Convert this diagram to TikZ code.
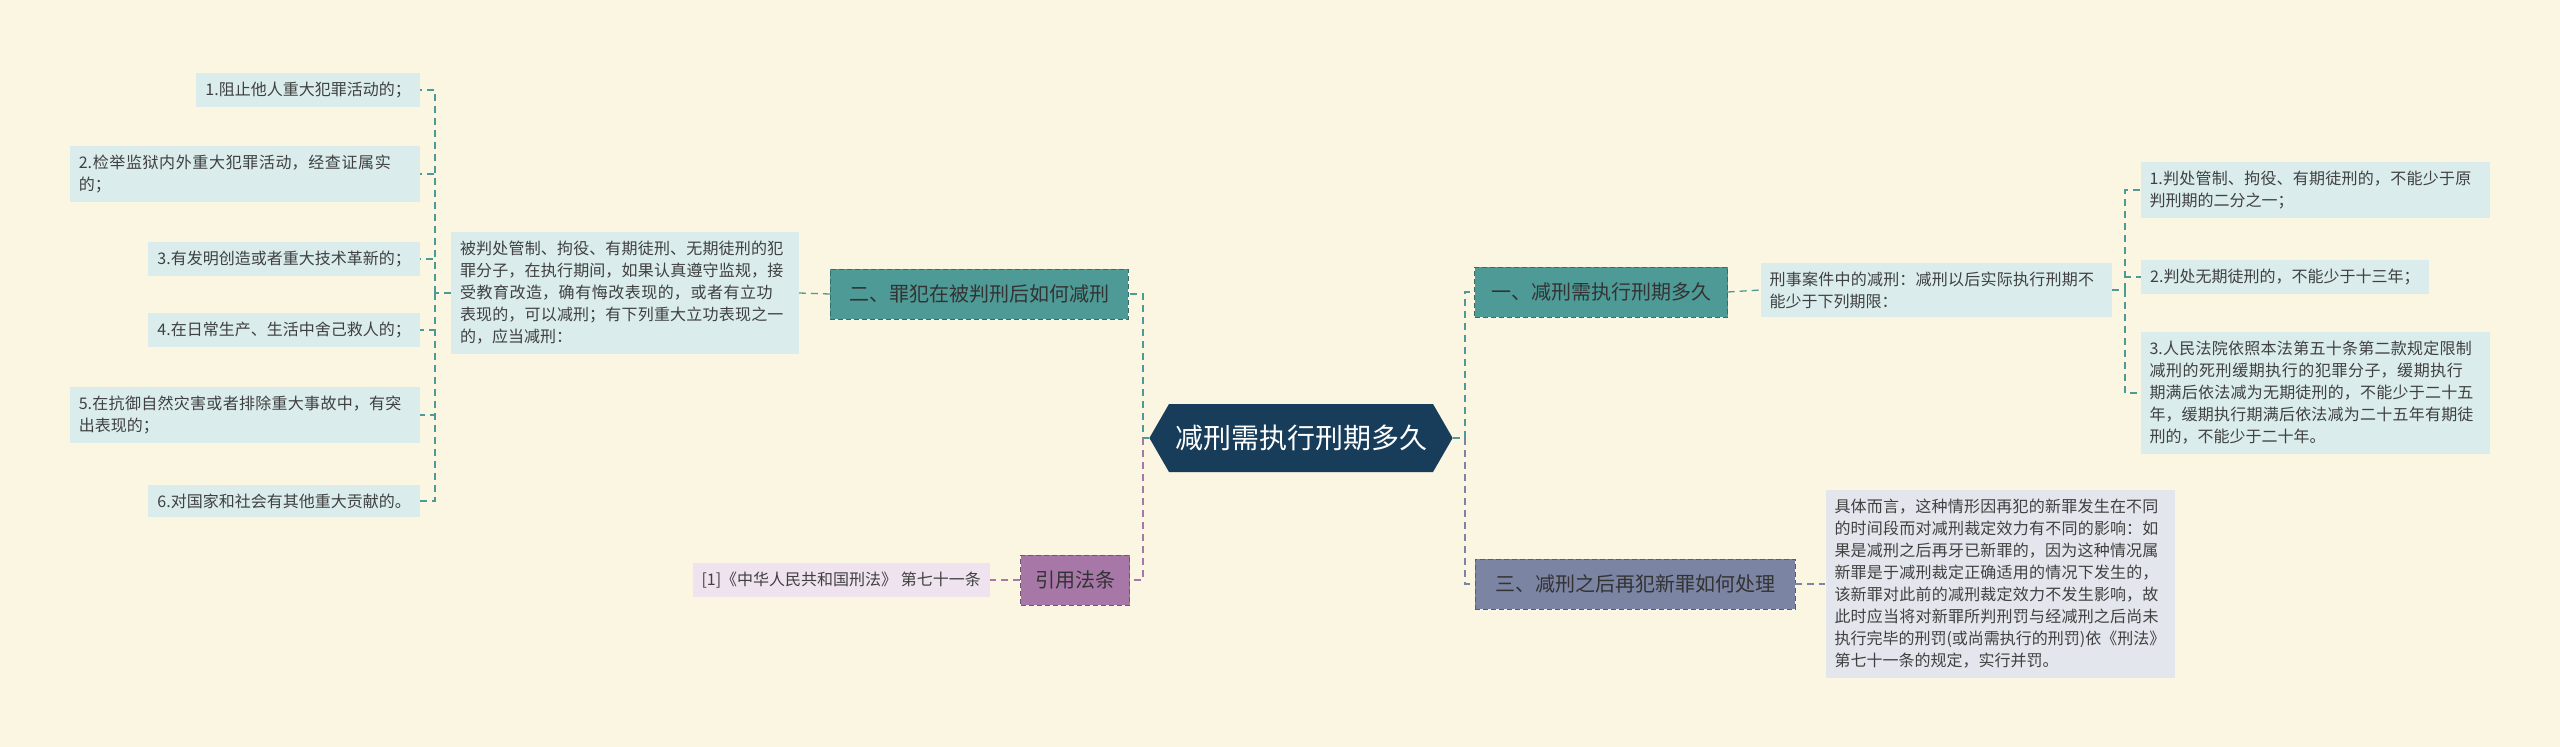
\documentclass[tikz,border=0pt]{standalone}
\usepackage{fontspec}
\setmainfont{Noto Sans CJK SC}
\XeTeXlinebreaklocale "zh"
\XeTeXlinebreakskip=0pt plus 1pt
\usetikzlibrary{shapes.symbols}
\definecolor{bgcream}{HTML}{FBF6E1}
\definecolor{rootblue}{HTML}{173D5A}
\definecolor{teal}{HTML}{4E9A96}
\definecolor{slate}{HTML}{7B84A3}
\definecolor{plum}{HTML}{A777A8}
\definecolor{leafblue}{HTML}{DAECEC}
\definecolor{leafgray}{HTML}{E3E6EC}
\definecolor{leafplum}{HTML}{EFE3EF}
\tikzset{
  x=1pt,y=1pt,
  branch/.style={draw=#1!70!black,dash pattern=on 5pt off 3pt,fill=#1,text=black!80,inner sep=8pt,
    font=\fontsize{20}{24}\selectfont,minimum height=50pt},
  leaf/.style={fill=#1,text=black!75,inner sep=9pt,align=left,
    font=\fontsize{16}{22}\selectfont},
  link/.style={draw=#1,dash pattern=on 7pt off 5pt,line width=1.3pt},
}
\begin{document}
\begin{tikzpicture}
\useasboundingbox[fill=bgcream] (0,0) rectangle (2560,-747);

\node[signal,signal to=west and east,signal pointer angle=120,fill=rootblue,text=white,
  font=\fontsize{28}{32}\selectfont,minimum height=68pt,minimum width=284pt,inner sep=6pt]
  (root) at (1301,-438) {减刑需执行刑期多久};

% right side
\node[branch=teal,minimum width=253pt] (b1) at (1601,-292) {一、减刑需执行刑期多久};
\node[leaf=leafblue,text width=333pt] (b1t) at (1936,-290) {刑事案件中的减刑：减刑以后实际执行刑期不能少于下列期限：};
\node[leaf=leafblue,text width=331pt] (r1) at (2315,-190) {1.判处管制、拘役、有期徒刑的，不能少于原判刑期的二分之一；};
\node[leaf=leafblue,anchor=west] (r2) at (2141,-277) {2.判处无期徒刑的，不能少于十三年；};
\node[leaf=leafblue,text width=331pt] (r3) at (2315,-393) {3.人民法院依照本法第五十条第二款规定限制减刑的死刑缓期执行的犯罪分子，缓期执行期满后依法减为无期徒刑的，不能少于二十五年，缓期执行期满后依法减为二十五年有期徒刑的，不能少于二十年。};

\node[branch=slate,minimum width=320pt] (b3) at (1635,-584) {三、减刑之后再犯新罪如何处理};
\node[leaf=leafgray,text width=331pt] (b3t) at (2000,-584) {具体而言，这种情形因再犯的新罪发生在不同的时间段而对减刑裁定效力有不同的影响：如果是减刑之后再牙已新罪的，因为这种情况属新罪是于减刑裁定正确适用的情况下发生的，该新罪对此前的减刑裁定效力不发生影响，故此时应当将对新罪所判刑罚与经减刑之后尚未执行完毕的刑罚(或尚需执行的刑罚)依《刑法》第七十一条的规定，实行并罚。};

% left side
\node[branch=teal,minimum width=298pt] (b2) at (979,-294) {二、罪犯在被判刑后如何减刑};
\node[leaf=leafblue,text width=330pt] (b2t) at (625,-293) {被判处管制、拘役、有期徒刑、无期徒刑的犯罪分子，在执行期间，如果认真遵守监规，接受教育改造，确有悔改表现的，或者有立功表现的，可以减刑；有下列重大立功表现之一的，应当减刑：};
\node[leaf=leafblue,anchor=east] (l1) at (420,-90) {1.阻止他人重大犯罪活动的；};
\node[leaf=leafblue,text width=332pt,anchor=east] (l2) at (420,-174) {2.检举监狱内外重大犯罪活动，经查证属实的；};
\node[leaf=leafblue,anchor=east] (l3) at (420,-259) {3.有发明创造或者重大技术革新的；};
\node[leaf=leafblue,anchor=east] (l4) at (420,-330) {4.在日常生产、生活中舍己救人的；};
\node[leaf=leafblue,text width=332pt,anchor=east] (l5) at (420,-415) {5.在抗御自然灾害或者排除重大事故中，有突出表现的；};
\node[leaf=leafblue,anchor=east] (l6) at (420,-501) {6.对国家和社会有其他重大贡献的。};

\node[branch=plum,minimum width=109pt] (cite) at (1075,-580) {引用法条};
\node[leaf=leafplum,anchor=east] (citet) at (990,-580) {[1]《中华人民共和国刑法》 第七十一条};

% connectors
\coordinate (jr) at (1465,-438);
\coordinate (jl) at (1143,-438);
\draw[link=teal] (root.east) -- (jr) |- (b1.west);
\draw[link=slate] (jr) |- (b3.west);
\draw[link=teal] (root.west) -- (jl) |- (b2.east);
\draw[link=plum] (jl) |- (cite.east);
\draw[link=teal] (b1.east) -- (b1t.west);
\draw[link=slate] (b3.east) -- (b3t.west);
\draw[link=teal] (b2.west) -- (b2t.east);
\draw[link=plum] (cite.west) -- (citet.east);
\coordinate (jb1) at (2125,-290);
\draw[link=teal] (b1t.east) -- (jb1);
\foreach \n in {r1,r2,r3} \draw[link=teal] (jb1) |- (\n.west);
\coordinate (jb2) at (435,-293);
\draw[link=teal] (b2t.west) -- (jb2);
\foreach \n in {l1,l2,l3,l4,l5,l6} \draw[link=teal] (jb2) |- (\n.east);
\end{tikzpicture}
\end{document}
